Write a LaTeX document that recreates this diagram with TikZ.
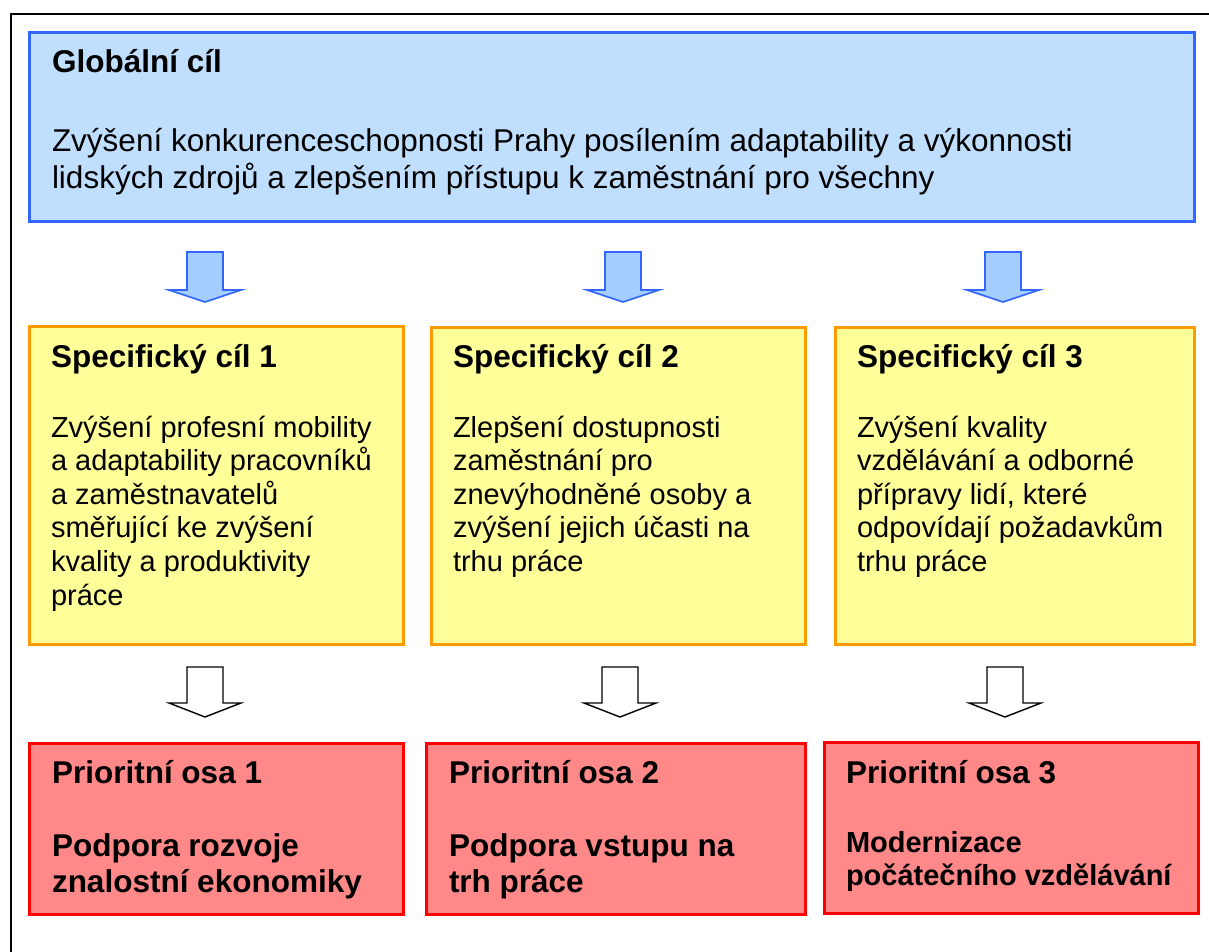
\documentclass[tikz,border=0pt]{standalone}
\usepackage{fontspec}
\setmainfont{Liberation Sans}
\definecolor{gfill}{RGB}{192,223,255}
\definecolor{gline}{RGB}{51,102,255}
\definecolor{afill}{RGB}{163,206,255}
\definecolor{yfill}{RGB}{255,255,153}
\definecolor{yline}{RGB}{255,153,0}
\definecolor{rfill}{RGB}{255,136,136}
\definecolor{rline}{RGB}{255,0,0}
\newcommand{\blockarr}[5]{%
  \draw[#1] ({#2-18},#3) -- ({#2+18},#3) -- ({#2+18},#4) -- ({#2+36},#4) -- (#2,#5) -- ({#2-36},#4) -- ({#2-18},#4) -- cycle;}
\newcommand{\hdr}{\fontsize{31.5}{36}\selectfont\bfseries}
\begin{document}
\begin{tikzpicture}[x=1pt,y=-1pt,
  boxbase/.style={anchor=north west, inner sep=0pt, outer sep=0pt, line width=3pt},
  gbox/.style={boxbase, draw=gline, fill=gfill},
  ybox/.style={boxbase, draw=yline, fill=yfill},
  rbox/.style={boxbase, draw=rline, fill=rfill},
  txt/.style={anchor=base west, inner sep=0pt, outer sep=0pt, align=left},
  bluearr/.style={draw=gline, fill=afill, line width=1.6pt, line join=miter},
  blackarr/.style={draw=black, fill=white, line width=1.4pt, line join=miter}]
\useasboundingbox (0,0) rectangle (1209,952);
\fill[white] (0,0) rectangle (1209,952);
\draw[line width=2.2pt] (10.7,960) -- (10.7,14) -- (1215,14);

% global box
\node[gbox, minimum width=1165pt, minimum height=189pt] (g) at (29.5,32.5) {};
\node[txt] (gh) at (52,73) {\hdr Globální cíl};
\node[txt] (gb) at (52,152) {\parbox[t]{1130pt}{\raggedright\fontsize{31.5}{37}\selectfont
Zvýšení konkurenceschopnosti Prahy posílením adaptability a výkonnosti\\
lidských zdrojů a zlepšením přístupu k zaměstnání pro všechny}};

% blue arrows
\blockarr{bluearr}{205}{252}{290}{302}
\blockarr{bluearr}{623}{252}{290}{302}
\blockarr{bluearr}{1003}{252}{290}{302}

% yellow boxes
\node[ybox, minimum width=374pt, minimum height=318pt] (y1) at (29.5,326) {};
\node[ybox, minimum width=374pt, minimum height=317pt] (y2) at (431.5,327) {};
\node[ybox, minimum width=359pt, minimum height=317pt] (y3) at (835.5,327) {};

\node[txt] (y1h) at (51,367) {\hdr Specifický cíl 1};
\node[txt] (y1b) at (51,437) {\parbox[t]{360pt}{\raggedright\fontsize{29}{33.6}\selectfont
Zvýšení profesní mobility\\
a adaptability pracovníků\\
a zaměstnavatelů\\
směřující ke zvýšení\\
kvality a produktivity\\
práce}};

\node[txt] (y2h) at (453,367) {\hdr Specifický cíl 2};
\node[txt] (y2b) at (453,437) {\parbox[t]{360pt}{\raggedright\fontsize{29}{33.6}\selectfont
Zlepšení dostupnosti\\
zaměstnání pro\\
znevýhodněné osoby a\\
zvýšení jejich účasti na\\
trhu práce}};

\node[txt] (y3h) at (857,367) {\hdr Specifický cíl 3};
\node[txt] (y3b) at (857,437) {\parbox[t]{340pt}{\raggedright\fontsize{29}{33.6}\selectfont
Zvýšení kvality\\
vzdělávání a odborné\\
přípravy lidí, které\\
odpovídají požadavkům\\
trhu práce}};

% black arrows
\blockarr{blackarr}{205}{667}{703}{717}
\blockarr{blackarr}{620}{667}{703}{717}
\blockarr{blackarr}{1005}{667}{703}{717}

% red boxes
\node[rbox, minimum width=374pt, minimum height=171pt] (r1) at (29.5,743) {};
\node[rbox, minimum width=379pt, minimum height=171pt] (r2) at (426.5,743) {};
\node[rbox, minimum width=374pt, minimum height=171pt] (r3) at (824.5,742) {};

\node[txt] (r1h) at (52,783) {\hdr Prioritní osa 1};
\node[txt] (r1b) at (52,856) {\parbox[t]{360pt}{\raggedright\fontsize{31.5}{36}\selectfont\bfseries
Podpora rozvoje\\
znalostní ekonomiky}};

\node[txt] (r2h) at (449,783) {\hdr Prioritní osa 2};
\node[txt] (r2b) at (449,856) {\parbox[t]{360pt}{\raggedright\fontsize{31.5}{36}\selectfont\bfseries
Podpora vstupu na\\
trh práce}};

\node[txt] (r3h) at (846,783) {\hdr Prioritní osa 3};
\node[txt] (r3b) at (846,852) {\parbox[t]{360pt}{\raggedright\fontsize{29}{33}\selectfont\bfseries
Modernizace\\
počátečního vzdělávání}};
\end{tikzpicture}
\end{document}
